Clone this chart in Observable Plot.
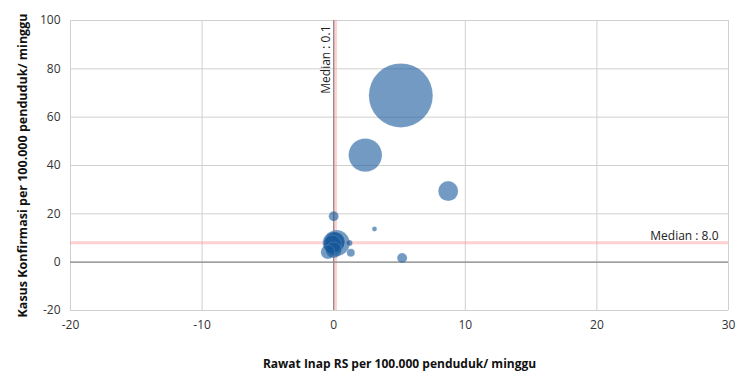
<!DOCTYPE html>
<html>
<head>
<meta charset="utf-8">
<script src="https://cdn.jsdelivr.net/npm/d3@7"></script>
<script src="https://cdn.jsdelivr.net/npm/@observablehq/plot@0.6"></script>
<style>
  html, body { margin: 0; padding: 0; background: #fff; }
  #chart { width: 746px; height: 384px; }
</style>
</head>
<body>
<div id="chart"></div>
<script>
// Rawat Inap RS per 100.000 penduduk/ minggu
const rawatInap = [5.1, 2.4, 8.7, 0.0, 3.1, 5.2, 0.0, 0.1, -0.1, 0.23, 0.0, 1.2, 1.3, -0.45];
// Kasus Konfirmasi per 100.000 penduduk/ minggu
const kasusKonfirmasi = [69, 44.3, 29.4, 19, 13.7, 1.7, 8.0, 8.5, 7.5, 7.9, 5, 7.9, 3.9, 4.2];
// bubble size
const ukuran = [1024, 280, 100, 25, 6, 25, 121, 100, 81, 169, 64, 9, 16, 49];

const xTicks = [-20, -10, 0, 10, 20, 30];
const yTicks = [-20, 0, 20, 40, 60, 80, 100];
const medianX = 0.1;
const medianY = 8.0;

const data = rawatInap.map((x, i) => ({x, y: kasusKonfirmasi[i], s: ukuran[i]}));
const font = "'Open Sans', 'Noto Sans', sans-serif";

const plot = Plot.plot({
  width: 746,
  height: 384,
  marginLeft: 70,
  marginRight: 18,
  marginTop: 20,
  marginBottom: 74,
  style: {fontFamily: font, fontSize: "12px", color: "#333", background: "#fff"},
  x: {domain: [-20, 30], ticks: xTicks, label: null, tickSize: 0, tickPadding: 10, tickFormat: d => String(d)},
  y: {domain: [-20, 100], ticks: yTicks, label: null, tickSize: 0, tickPadding: 10, tickFormat: d => String(d)},
  r: {type: "sqrt", domain: [0, 1024], range: [0, 32]},
  marks: [
    Plot.gridX(xTicks, {stroke: "#d0d0d0", strokeOpacity: 1}),
    Plot.gridY(yTicks, {stroke: "#d0d0d0", strokeOpacity: 1}),
    Plot.ruleX([medianX], {stroke: "#ff9a9a", strokeOpacity: 0.45, strokeWidth: 4}),
    Plot.ruleY([medianY], {stroke: "#ff9a9a", strokeOpacity: 0.45, strokeWidth: 3}),
    Plot.ruleY([0], {stroke: "#8a8a8a", strokeWidth: 1.2}),
    Plot.ruleX([0], {stroke: "#8a8a8a", strokeWidth: 1.2}),
    Plot.dot(data, {x: "x", y: "y", r: "s", fill: "#145799", fillOpacity: 0.6, stroke: "#ffffff", strokeOpacity: 0.3, strokeWidth: 0.5}),
    Plot.text([`Median : ${medianX}`], {x: medianX, y: 100, rotate: -90, textAnchor: "end", dx: -9, dy: 5, fontSize: 12, fill: "#222"}),
    Plot.text([`Median : ${medianY.toFixed(1)}`], {x: 30, y: medianY, textAnchor: "end", dx: -10, dy: -7, fontSize: 12, fill: "#222"}),
    Plot.text(["Rawat Inap RS per 100.000 penduduk/ minggu"], {frameAnchor: "bottom", dy: 57, fontWeight: "bold", fontSize: 12, fill: "#111"}),
    Plot.text(["Kasus Konfirmasi per 100.000 penduduk/ minggu"], {frameAnchor: "left", rotate: -90, textAnchor: "middle", dx: -48, fontWeight: "bold", fontSize: 12.5, fill: "#111"})
  ]
});
document.getElementById("chart").appendChild(plot);
</script>
</body>
</html>
